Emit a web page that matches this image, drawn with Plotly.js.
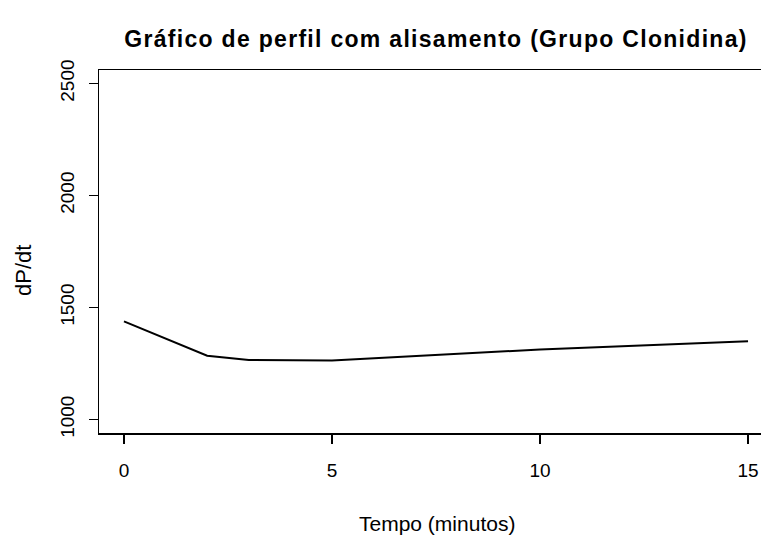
<!DOCTYPE html>
<html>
<head>
<meta charset="utf-8">
<script src="https://cdn.plot.ly/plotly-3.0.1.min.js"></script>
<style>
html,body{margin:0;padding:0;overflow:hidden;background:#fff;width:761px;height:536px;}
#chart{width:800px;height:536px;}
#chart .gtitle{letter-spacing:1.3px;}
</style>
</head>
<body>
<div id="chart"></div>
<script>
// Smoothed profile (lowess) values
const tempo = [0, 2, 3, 5, 10, 15];
const dPdt = [1438, 1285, 1266, 1263, 1313, 1350];
const xTickVals = [0, 5, 10, 15];
const yTickVals = [1000, 1500, 2000, 2500];
const titleText = "Gráfico de perfil com alisamento (Grupo Clonidina)";
const xTitle = "Tempo (minutos)";
const yTitle = "dP/dt";

const FONT = '"Liberation Sans", Arial, Helvetica, sans-serif';

const trace = {
  x: tempo, y: dPdt, type: 'scatter', mode: 'lines',
  line: {color: '#000', width: 2}, hoverinfo: 'skip'
};

const layout = {
  width: 800, height: 536,
  margin: {l: 99, r: 27, t: 70, b: 103},
  paper_bgcolor: '#fff', plot_bgcolor: '#fff',
  showlegend: false,
  font: {family: FONT, color: '#000', size: 19},
  title: {
    text: titleText, x: 0.5, xref: 'paper', xanchor: 'center',
    y: 1 - 39/536, yref: 'container', yanchor: 'middle',
    font: {family: FONT, size: 23, weight: 'bold', color: '#000'}
  },
  xaxis: {
    range: [-0.6, 15.6], tickvals: xTickVals, ticktext: xTickVals.map(String),
    showgrid: false, zeroline: false,
    showline: true, mirror: true, linecolor: '#000', linewidth: 1.5,
    ticks: 'outside', ticklen: 9, tickwidth: 1.5, tickcolor: '#000',
    ticklabelstandoff: 11,
    tickfont: {family: FONT, size: 19, color: '#000'}
  },
  yaxis: {
    range: [940, 2560], tickvals: yTickVals, ticktext: yTickVals.map(String),
    showgrid: false, zeroline: false,
    showline: true, mirror: true, linecolor: '#000', linewidth: 1.5,
    ticks: 'outside', ticklen: 9, tickwidth: 1.5, tickcolor: '#000',
    tickangle: -90, ticklabelstandoff: 7,
    tickfont: {family: FONT, size: 19, color: '#000'}
  },
  annotations: [
    {text: xTitle, xref: 'paper', x: (437-99)/674, yref: 'paper', y: (433-523)/363,
     xanchor: 'center', yanchor: 'middle', showarrow: false,
     font: {family: FONT, size: 21, color: '#000'}},
    {text: yTitle, xref: 'paper', x: (23-99)/674, yref: 'paper', y: (433-271)/363,
     xanchor: 'center', yanchor: 'middle', showarrow: false, textangle: -90,
     font: {family: FONT, size: 22, color: '#000'}}
  ]
};

Plotly.newPlot('chart', [trace], layout, {staticPlot: true, displayModeBar: false});
</script>
</body>
</html>
